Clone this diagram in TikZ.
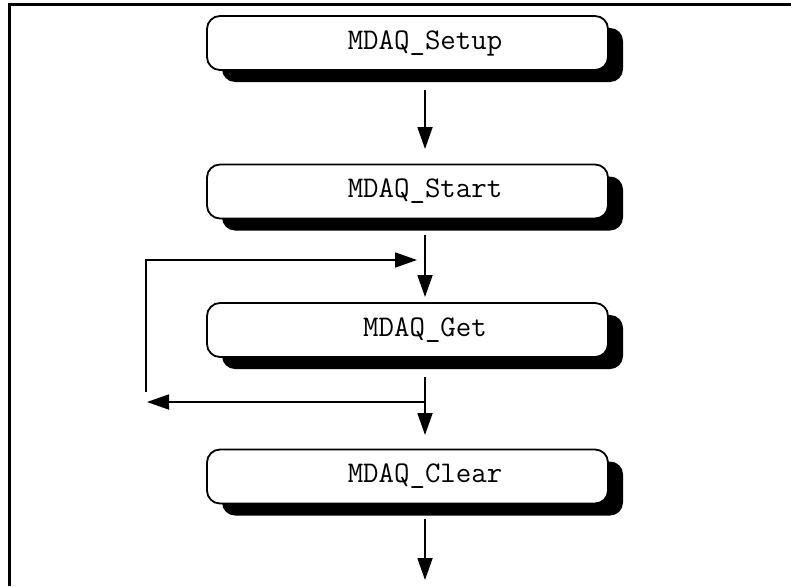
\documentclass[tikz,border=0pt]{standalone}
\usetikzlibrary{arrows.meta,shadows}
\begin{document}
\begin{tikzpicture}[x=1pt,y=1pt,
  stepbox/.style={draw=black, line width=1.8pt, fill=white, rounded corners=13pt,
    minimum width=401pt, minimum height=54pt, inner sep=0pt,
    drop shadow={shadow xshift=15pt, shadow yshift=-12pt, fill=black, opacity=1}},
  boxtext/.style={font=\ttfamily\fontsize{30}{34}\selectfont},
  flow/.style={line width=1.8pt, -{Triangle[length=22pt,width=15pt]}},
  frame/.style={line width=3pt}]
\useasboundingbox (0,0) rectangle (791,-586);
% frame
\coordinate (ftr) at (791,-5);
\coordinate (ftl) at (9,-5);
\coordinate (fbl) at (9,-586);
\draw[frame] (ftr) -- (ftl) -- (fbl);
% boxes
\node[stepbox] (setup) at (407.5,-43) {};
\node[boxtext] (setupt) at (425,-43) {MDAQ\_Setup};
\node[stepbox] (start) at (407.5,-191.5) {};
\node[boxtext] (startt) at (425,-191.5) {MDAQ\_Start};
\node[stepbox] (get) at (407.5,-330) {};
\node[boxtext] (gett) at (425,-330) {MDAQ\_Get};
\node[stepbox] (clear) at (407.5,-476.5) {};
\node[boxtext] (cleart) at (425,-476.5) {MDAQ\_Clear};
% arrow endpoints
\coordinate (a1s) at (425,-90);
\coordinate (a1e) at (425,-149);
\coordinate (a2s) at (425,-235);
\coordinate (a2e) at (425,-297);
\coordinate (a3s) at (425,-377);
\coordinate (a3e) at (425,-435);
\coordinate (a4s) at (425,-519);
\coordinate (a4e) at (425,-580);
\coordinate (lj) at (425,-402);
\coordinate (lb) at (147,-402);
\coordinate (lv) at (146,-392);
\coordinate (lt) at (417,-260);
\draw[flow] (a1s) -- (a1e);
\draw[flow] (a2s) -- (a2e);
\draw[flow] (a3s) -- (a3e);
\draw[flow] (a4s) -- (a4e);
\draw[flow] (lj) -- (lb);
\draw[flow] (lv) |- (lt);
\end{tikzpicture}
\end{document}
